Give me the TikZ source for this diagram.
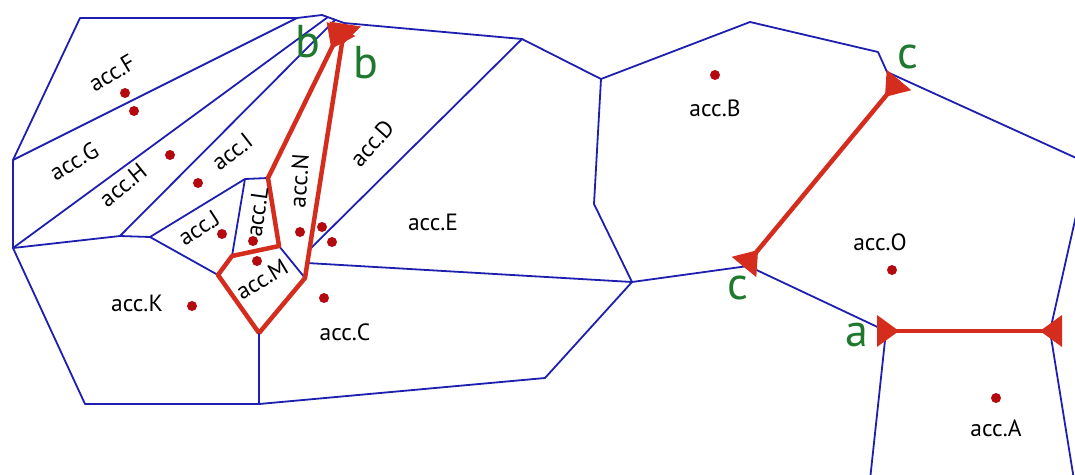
\documentclass[tikz,border=0pt]{standalone}
\usepackage{fontspec}
\setmainfont{PT Sans}
\usetikzlibrary{calc}
\definecolor{vblue}{RGB}{30,30,175}
\definecolor{vred}{RGB}{212,45,30}
\definecolor{dotred}{RGB}{180,10,15}
\definecolor{vgreen}{RGB}{30,120,45}
\newcommand{\revtip}[2]{%
  \fill[vred] ($(#1)!22pt!(#2)$) -- ($(#1)!16pt!90:(#2)$) -- ($(#1)!16pt!-90:(#2)$) -- cycle;}
\tikzset{
  edge/.style={draw=vblue, line width=1.8pt, line join=round},
  redge/.style={draw=vred, line width=4.5pt, line join=round},
  dot/.style={circle, fill=dotred, inner sep=0pt, minimum size=10pt},
  lab/.style={font=\fontsize{23.5}{26}\selectfont, inner sep=0pt, text=black},
  glab/.style={font=\fontsize{46}{50}\selectfont, inner sep=0pt, text=vgreen},
}
\begin{document}
\begin{tikzpicture}[x=1pt, y=-1pt]
\useasboundingbox (0,0) rectangle (1075,474);
\clip (0,0) rectangle (1075,474);
% vertices
\coordinate (V1) at (80,18);
\coordinate (V2) at (297,18);
\coordinate (V3) at (322,15);
\coordinate (TB) at (344,23);
\coordinate (V6) at (522,39);
\coordinate (V7) at (13,160);
\coordinate (V8) at (13,248);
\coordinate (V9) at (85,404);
\coordinate (V10) at (259,404);
\coordinate (V11) at (545,378);
\coordinate (V12) at (632,282);
\coordinate (V13) at (601,79);
\coordinate (V14) at (594,204);
\coordinate (V15) at (750,22);
\coordinate (V16) at (878,52);
\coordinate (V17) at (887,72);
\coordinate (E1) at (1085,162);
\coordinate (GH) at (328,17);
\coordinate (HI) at (335,20);
\coordinate (Q1) at (120,236);
\coordinate (Q2) at (150,237);
\coordinate (Q3) at (245,179);
\coordinate (R1) at (218,275);
\coordinate (R2) at (232,256);
\coordinate (R3) at (279,246);
\coordinate (R4) at (268,178);
\coordinate (R5) at (305,278);
\coordinate (R6) at (259,333);
\coordinate (DE) at (309,250);
\coordinate (CE) at (307,263);
\coordinate (b1) at (341,29);
\coordinate (b2) at (345,24);
\coordinate (CV) at (748,266);
\coordinate (AV) at (886,331);
\coordinate (AR) at (1050,331);
\coordinate (AVd) at (870,480);
\coordinate (ARu) at (1080,198);
\coordinate (ARd) at (1074,480);
\coordinate (cT) at (899,80);
\coordinate (cB) at (744,267);
\coordinate (aL) at (877,331);
\coordinate (aR) at (1062,331);
% blue edges
\draw[edge] (V7) -- (V1) -- (V2) -- (V3) -- (TB) -- (V6) -- (V13) -- (V15) -- (V16) -- (V17) -- (E1);
\draw[edge] (V7) -- (V8) -- (V9) -- (V10) -- (V11) -- (V12) -- (CV) -- (AV) -- (AVd);
\draw[edge] (V7) -- (V2);
\draw[edge] (V8) -- (GH);
\draw[edge] (V8) -- (Q1) -- (Q2) -- (Q3) -- (R4);
\draw[edge] (Q1) -- (HI);
\draw[edge] (Q2) -- (R1);
\draw[edge] (R2) -- (Q3);
\draw[edge] (R3) -- (R5);
\draw[edge] (R6) -- (V10);
\draw[edge] (CE) -- (V12);
\draw[edge] (DE) -- (V6);
\draw[edge] (V13) -- (V14) -- (V12);
\draw[edge] (ARu) -- (AR) -- (ARd);
% red edges
\draw[redge] (R6) -- (R1) -- (R2) -- (R3) -- (R4) -- (b1);
\draw[redge] (R6) -- (R5) -- (b2);
\draw[redge] (cB) -- (cT);
\draw[redge] (aL) -- (aR);
\revtip{b1}{R4}
\revtip{b2}{R5}
\revtip{cB}{cT}
\revtip{cT}{cB}
\revtip{aL}{aR}
\revtip{aR}{aL}
% dots
\node[dot] (dF) at (125,93) {};
\node[dot] (dG) at (134,111) {};
\node[dot] (dH) at (170,155) {};
\node[dot] (dI) at (198,183) {};
\node[dot] (dJ) at (222,234) {};
\node[dot] (dL) at (253,241) {};
\node[dot] (dM) at (257,261) {};
\node[dot] (dN) at (300,232) {};
\node[dot] (dD) at (322,227) {};
\node[dot] (dE) at (332,242) {};
\node[dot] (dC) at (324,298) {};
\node[dot] (dK) at (192,306) {};
\node[dot] (dB) at (715,75) {};
\node[dot] (dO) at (892,270) {};
\node[dot] (dA) at (996,398) {};
% labels
\node[lab, rotate=31] (lF) at (112,73) {acc.F};
\node[lab, rotate=30] (lG) at (74,161) {acc.G};
\node[lab, rotate=39] (lH) at (123,185) {acc.H};
\node[lab, rotate=38] (lI) at (232,152) {acc.I};
\node[lab, rotate=33] (lJ) at (199,228) {acc.J};
\node[lab, rotate=82] (lL) at (257,212) {acc.L};
\node[lab, rotate=86] (lN) at (299,181) {acc.N};
\node[lab, rotate=31] (lM) at (262,279) {acc.M};
\node[lab, rotate=48] (lD) at (372,143) {acc.D};
\node[lab] (lE) at (433,222) {acc.E};
\node[lab] (lK) at (137,303) {acc.K};
\node[lab] (lC) at (345,332) {acc.C};
\node[lab] (lB) at (715,108) {acc.B};
\node[lab] (lO) at (880,242) {acc.O};
\node[lab] (lA) at (996,428) {acc.A};
% green letters
\node[glab] (gb1) at (308,42) {b};
\node[glab] (gb2) at (366,63) {b};
\node[glab] (gc1) at (908,57) {c};
\node[glab] (gc2) at (738,288) {c};
\node[glab] (ga1) at (857,335) {a};
\node[glab] (ga2) at (1087,332) {a};
\end{tikzpicture}
\end{document}
